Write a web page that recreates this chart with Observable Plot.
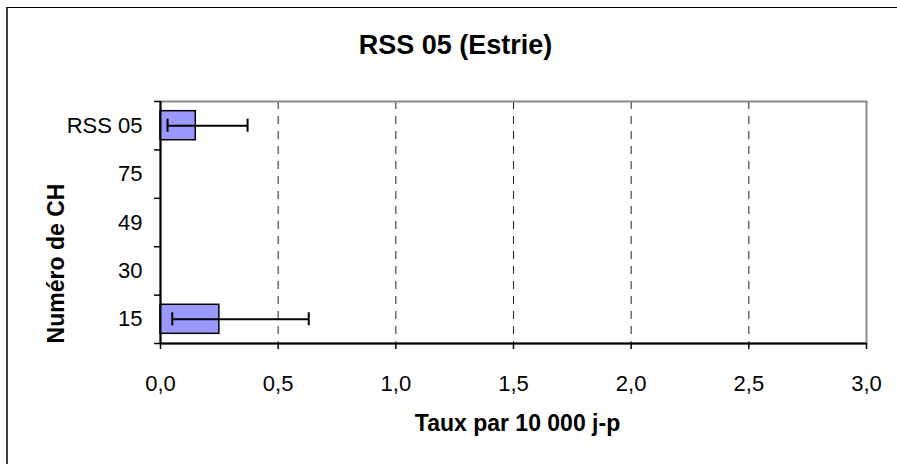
<!DOCTYPE html>
<html>
<head>
<meta charset="utf-8">
<script src="https://cdn.jsdelivr.net/npm/d3@7"></script>
<script src="https://cdn.jsdelivr.net/npm/@observablehq/plot@0.6"></script>
<style>
  html, body { margin: 0; padding: 0; background: #fff; overflow: hidden; }
  #wrap { position: relative; width: 897px; height: 464px; overflow: hidden; }
  #border { position: absolute; left: 6px; top: 7px; width: 891px; height: 457px;
            border-left: 2px solid #404040; border-top: 1px solid #000; pointer-events: none; }
  svg { font-family: "Liberation Sans", Arial, sans-serif; }
</style>
</head>
<body>
<div id="wrap"><div id="border"></div></div>
<script>
// ---- data ----
const chartTitle = "RSS 05 (Estrie)";
const xTitle = "Taux par 10 000 j-p";
const yTitle = "Numéro de CH";
const categories = ["15", "30", "49", "75", "RSS 05"];   // bottom to top
const rates = [0.25, null, null, null, 0.15];
const lowerCI = [0.05, null, null, null, 0.03];
const upperCI = [0.63, null, null, null, 0.37];
const xTicks = [0, 0.5, 1, 1.5, 2, 2.5, 3];

const rows = categories.map((c, i) => ({ c, i, rate: rates[i], lo: lowerCI[i], hi: upperCI[i] }))
  .filter(d => d.rate != null);
const idx = categories.map((c, i) => i);
const bounds = [...idx.map(i => i - 0.5), categories.length - 0.5];
const half = 0.3, cap = 0.135;

const chart = Plot.plot({
  width: 897,
  height: 464,
  marginLeft: 160,
  marginRight: 31,
  marginTop: 101,
  marginBottom: 121,
  style: { fontFamily: '"Liberation Sans", Arial, sans-serif', background: "transparent", overflow: "visible" },
  x: { domain: [0, 3] },
  y: { domain: [-0.5, categories.length - 0.5] },
  marks: [
    Plot.ruleX(xTicks.slice(1, -1), { stroke: "#222", strokeWidth: 1, strokeDasharray: "8,7" }),
    Plot.frame({ stroke: "#8a8a8a", strokeWidth: 2 }),
    Plot.rectX(rows, { x1: 0, x2: "rate", y1: d => d.i - half, y2: d => d.i + half,
      fill: "#9999FF", stroke: "#000", strokeWidth: 1.5 }),
    Plot.ruleY(rows, { y: "i", x1: "lo", x2: "hi", stroke: "#000", strokeWidth: 2 }),
    Plot.ruleX(rows, { x: "lo", y1: d => d.i - cap, y2: d => d.i + cap, stroke: "#000", strokeWidth: 2 }),
    Plot.ruleX(rows, { x: "hi", y1: d => d.i - cap, y2: d => d.i + cap, stroke: "#000", strokeWidth: 2 }),
    Plot.ruleX([0], { stroke: "#000", strokeWidth: 2 }),
    Plot.ruleY([-0.5], { stroke: "#000", strokeWidth: 2 }),
    Plot.axisX({ ticks: xTicks, tickSize: 6, tickPadding: 26, fontSize: 22, label: null,
      tickFormat: d => d.toFixed(1).replace(".", ","), stroke: "#000", strokeWidth: 1.5 }),
    Plot.axisY({ ticks: idx, tickSize: 0, tickPadding: 18, fontSize: 22, label: null,
      tickFormat: i => categories[i] }),
    Plot.axisY({ ticks: bounds, tickSize: 6, tickFormat: () => "", label: null, strokeWidth: 1.5 }),
    Plot.text([chartTitle], { frameAnchor: "top", dx: -58, dy: -56, fontSize: 27, fontWeight: "bold",
      lineAnchor: "middle", fill: "#000" }),
    Plot.text([xTitle], { frameAnchor: "bottom", dx: 4, dy: 80, fontSize: 23, fontWeight: "bold",
      lineAnchor: "middle", fill: "#000" }),
    Plot.text([yTitle], { frameAnchor: "left", textAnchor: "middle", dx: -104, dy: 41, rotate: -90,
      fontSize: 23, fontWeight: "bold", lineAnchor: "middle", fill: "#000" })
  ]
});
document.getElementById("wrap").insertBefore(chart, document.getElementById("border"));
chart.style.position = "absolute";
chart.style.left = "0";
chart.style.top = "0";
</script>
</body>
</html>
